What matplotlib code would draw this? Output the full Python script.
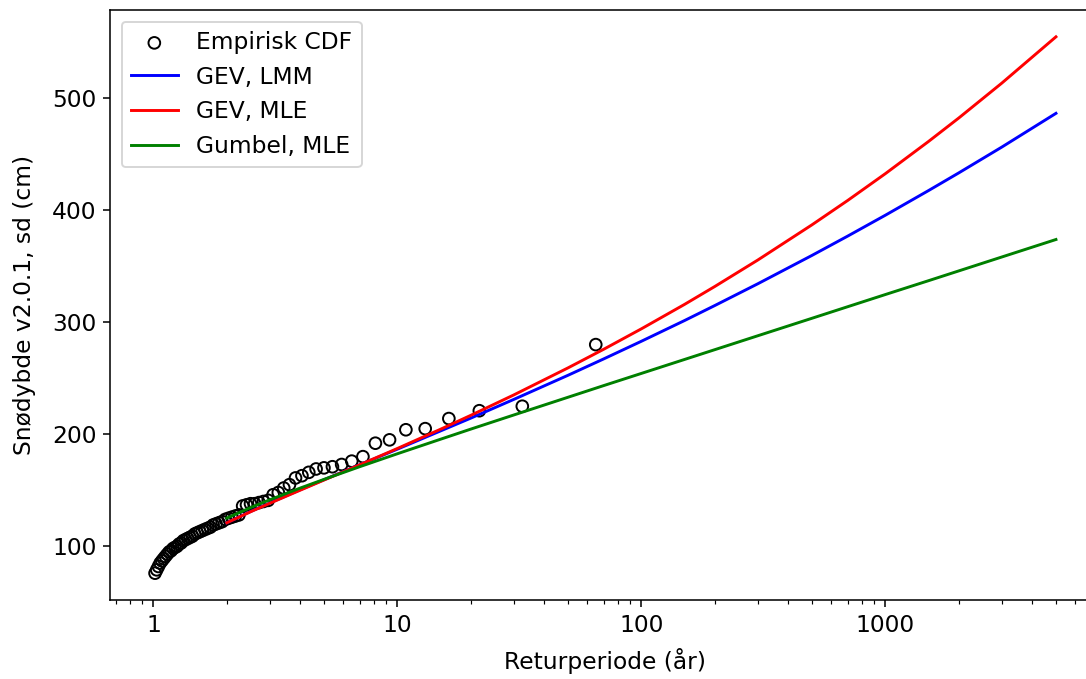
import matplotlib
matplotlib.use("Agg")
import matplotlib.pyplot as plt
from matplotlib.ticker import NullFormatter

# Empirical data: sorted snow depths (largest first); return period = 65 / rank
ranks = list(range(1, 65))
empirical_cm = [280, 225, 221, 214, 205, 204, 195, 192, 180, 176,
                173, 171, 170, 169, 166, 163, 161, 155, 152, 148,
                146, 141, 140, 139, 138, 138, 137, 136, 128, 127,
                126, 125, 124, 122, 121, 120, 119, 117, 116, 115,
                114, 113, 112, 111, 109, 108, 107, 106, 105, 103,
                102, 100, 99, 98, 96, 95, 93, 91, 89, 87,
                85, 82, 79, 76]
n_plus_1 = 65
emp_T = [n_plus_1 / r for r in ranks]

# Fitted curves
curve_T = [2, 2.5, 3, 4, 5, 7, 10, 15, 20, 30, 50, 70, 100, 150, 200,
           300, 500, 700, 1000, 1500, 2000, 3000, 5000]
gev_lmm = [121.0, 131.0, 138.7, 150.5, 159.4, 172.7, 186.7, 202.9, 214.4,
           231.1, 252.6, 267.2, 283.0, 301.4, 314.9, 334.3, 359.6, 376.8,
           395.5, 417.4, 433.3, 456.3, 486.4]
gev_mle = [121.0, 130.8, 138.4, 150.1, 159.1, 172.7, 187.3, 204.4, 216.9,
           235.1, 259.2, 275.8, 294.1, 315.8, 331.9, 355.5, 386.9, 408.6,
           432.6, 461.2, 482.3, 513.4, 554.7]
gumbel_mle = [125.2, 134.5, 141.5, 152.0, 159.7, 171.0, 182.6, 195.5, 204.6,
              217.2, 233.0, 243.4, 254.3, 266.7, 275.5, 287.9, 303.5, 313.8,
              324.7, 337.0, 345.8, 358.2, 373.8]

xtick_vals = [1, 10, 100, 1000]
xtick_labels = ["1", "10", "100", "1000"]

dpi = 140
plt.rcParams["font.size"] = 12
fig = plt.figure(figsize=(1086 / dpi, 679 / dpi), dpi=dpi)
ax = fig.add_axes([110 / 1086, 1 - 600 / 679, (1101 - 110) / 1086, 590 / 679])

ax.scatter(emp_T, empirical_cm, facecolors="none", edgecolors="black",
           label="Empirisk CDF", zorder=2)
ax.plot(curve_T, gev_lmm, color="blue", label="GEV, LMM")
ax.plot(curve_T, gev_mle, color="red", label="GEV, MLE")
ax.plot(curve_T, gumbel_mle, color="green", label="Gumbel, MLE")

ax.set_xscale("log")
ax.set_xticks(xtick_vals, labels=xtick_labels)
ax.xaxis.set_minor_formatter(NullFormatter())
ax.set_xlabel("Returperiode (år)", labelpad=6)
ax.set_ylabel("Snødybde v2.0.1, sd (cm)", labelpad=8)
ax.legend(loc="upper left")

fig.savefig("out.png", dpi=dpi)
